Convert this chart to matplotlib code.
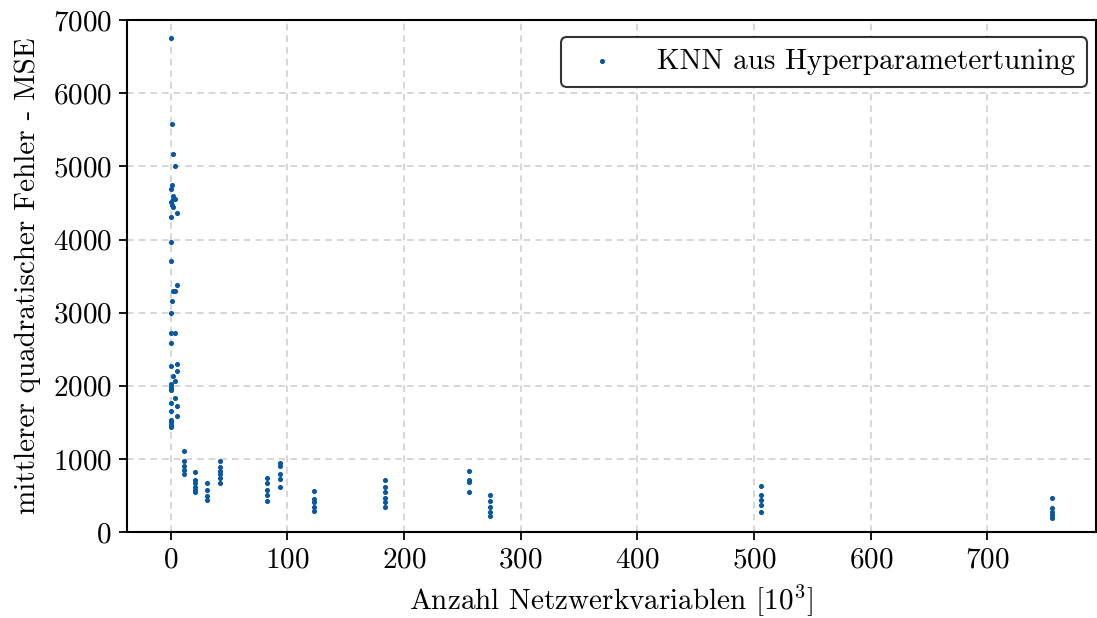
import matplotlib
matplotlib.use("Agg")
import matplotlib.pyplot as plt
import numpy as np

plt.rcParams["font.family"] = "cmr10"
plt.rcParams["mathtext.fontset"] = "cm"
plt.rcParams["axes.formatter.use_mathtext"] = True
plt.rcParams["font.size"] = 21

# Netzwerkvariablen in 10^3 und zugehoeriger MSE
small_x = [0.3, 1.2, 2.3, 3.4, 1.2, 0.3, 2.0, 2.3, 3.4, 0.3, 1.2, 2.3, 5.7, 0.3,
           0.3, 0.3, 5.7, 3.4, 2.3, 1.2, 0.3, 0.3, 3.4, 0.3, 0.3, 5.7, 5.7, 2.3,
           3.4, 0.3, 0.3, 0.3, 0.3, 3.4, 0.3, 5.7, 0.3, 5.7, 0.3, 0.3, 0.3, 0.3]
small_mse = [6760, 5580, 5175, 5000, 4750, 4690, 4600, 4560, 4560, 4510, 4470, 4440, 4360, 4310,
             3960, 3710, 3380, 3300, 3290, 3160, 3000, 2720, 2720, 2580, 2270, 2300, 2200, 2130,
             2060, 2030, 1990, 1960, 1940, 1840, 1770, 1720, 1660, 1590, 1530, 1500, 1465, 1440]

big_groups = {
    11: [1112, 975, 907, 848, 789],
    21: [825, 711, 666, 611, 575, 543],
    31.3: [675, 575, 497, 438],
    42: [975, 894, 839, 789, 734, 675],
    82.4: [734, 666, 575, 506, 428],
    93.5: [939, 907, 789, 721, 620],
    122.5: [565, 451, 406, 346, 287],
    183.6: [711, 611, 551, 469, 415, 338],
    255.8: [839, 711, 688, 543],
    273.4: [506, 428, 338, 269, 219],
    506: [629, 506, 438, 369, 278],
    755: [460, 330, 280, 230, 190],
}

x = list(small_x)
y = list(small_mse)
for k, vals in big_groups.items():
    x += [k] * len(vals)
    y += vals

fig = plt.figure(figsize=(10.97, 6.18), dpi=100)
ax = fig.add_axes([0.1158, 0.139, 0.883, 0.8285])
ax.scatter(x, y, s=7, color="#0757a3", label="KNN aus Hyperparametertuning", zorder=3)

ax.set_ylim(0, 7000)
ax.set_yticks(np.arange(0, 7001, 1000))
ax.set_xticks(np.arange(0, 701, 100))
ax.grid(True, linestyle=(0, (4, 3)), color="#d0d0d0", linewidth=1.2)
ax.set_axisbelow(True)
for sp in ax.spines.values():
    sp.set_linewidth(1.5)
ax.tick_params(width=1.3, length=6, pad=5)

ax.set_xlabel("Anzahl Netzwerkvariablen [$10^3$]", labelpad=6)
ax.set_ylabel("mittlerer quadratischer Fehler - MSE", labelpad=8)

leg = ax.legend(loc="upper right", bbox_to_anchor=(0.991, 0.967), fancybox=True,
                framealpha=1, borderpad=0.4, handletextpad=0.9, borderaxespad=0)
leg.get_frame().set_edgecolor("#333333")
leg.get_frame().set_linewidth(1.5)

fig.savefig("out.png", dpi=100)
